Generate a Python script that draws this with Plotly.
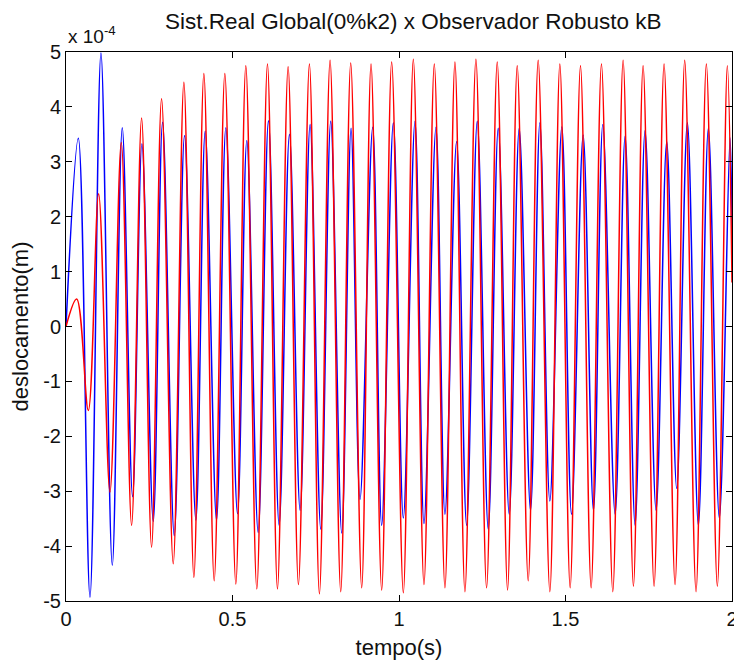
import plotly.graph_objects as go

# Values (displacement in units of 1e-4 m)
# Real system (blue): times (s) of start / extremes / end, and values
blue_t = [0.000, 0.037, 0.072, 0.105, 0.139, 0.169, 0.200, 0.228, 0.262, 0.290,
          0.325, 0.356, 0.390, 0.418, 0.452, 0.480, 0.515, 0.543, 0.577, 0.608,
          0.640, 0.671, 0.703, 0.733, 0.765, 0.795, 0.828, 0.856, 0.883, 0.921,
          0.948, 0.983, 1.013, 1.048, 1.075, 1.111, 1.138, 1.173, 1.203, 1.235,
          1.268, 1.298, 1.331, 1.361, 1.395, 1.423, 1.453, 1.489, 1.518, 1.553,
          1.584, 1.612, 1.649, 1.679, 1.709, 1.739, 1.772, 1.804, 1.834, 1.866,
          1.899, 1.929, 1.962, 1.994, 2.000]
blue_y = [0.00, 3.43, -4.93, 4.98, -4.35, 3.62, -3.10, 3.33, -3.55, 3.72,
          -3.81, 3.48, -3.53, 3.56, -3.53, 3.62, -3.41, 3.39, -3.75, 3.75,
          -3.62, 3.50, -3.35, 3.68, -3.69, 3.74, -3.76, 3.61, -3.15, 3.63,
          -3.62, 3.71, -3.49, 3.74, -3.59, 3.63, -3.42, 3.37, -3.62, 3.74,
          -3.69, 3.61, -3.42, 3.61, -3.35, 3.71, -3.18, 3.64, -3.42, 3.49,
          -3.35, 3.68, -3.42, 3.47, -3.62, 3.57, -3.35, 3.37, -2.95, 3.71,
          -3.62, 3.61, -3.49, 3.44, 1.70]

# Robust observer (red)
red_t = [0.000, 0.032, 0.067, 0.098, 0.132, 0.166, 0.197, 0.227, 0.257, 0.287,
         0.322, 0.354, 0.384, 0.414, 0.445, 0.477, 0.510, 0.540, 0.573, 0.605,
         0.635, 0.667, 0.698, 0.731, 0.761, 0.793, 0.825, 0.855, 0.888, 0.916,
         0.948, 0.978, 1.013, 1.043, 1.075, 1.106, 1.138, 1.168, 1.198, 1.231,
         1.263, 1.295, 1.326, 1.355, 1.388, 1.418, 1.453, 1.483, 1.514, 1.545,
         1.577, 1.608, 1.642, 1.673, 1.704, 1.733, 1.766, 1.796, 1.829, 1.858,
         1.892, 1.923, 1.956, 1.986, 2.000]
red_y = [0.00, 0.50, -1.53, 2.42, -3.02, 3.35, -3.62, 3.80, -4.02, 4.15,
         -4.32, 4.45, -4.57, 4.61, -4.63, 4.61, -4.69, 4.75, -4.78, 4.78,
         -4.78, 4.73, -4.70, 4.78, -4.87, 4.85, -4.83, 4.80, -4.76, 4.78,
         -4.80, 4.82, -4.85, 4.87, -4.70, 4.78, -4.76, 4.82, -4.83, 4.87,
         -4.76, 4.82, -4.80, 4.75, -4.63, 4.85, -4.83, 4.78, -4.76, 4.75,
         -4.76, 4.78, -4.83, 4.85, -4.73, 4.75, -4.73, 4.78, -4.70, 4.85,
         -4.83, 4.78, -4.73, 4.75, 0.80]

x_ticks = [0, 0.5, 1, 1.5, 2]
x_tick_text = ["0", "0.5", "1", "1.5", "2"]
y_ticks = [-5, -4, -3, -2, -1, 0, 1, 2, 3, 4, 5]
y_tick_text = ["-5", "-4", "-3", "-2", "-1", "0", "1", "2", "3", "4", "5"]

title_text = "Sist.Real Global(0%k2) x Observador Robusto kB"
x_label = "tempo(s)"
y_label = "deslocamento(m)"

FONT = "Liberation Sans, Arial, sans-serif"
INK = "#111111"

fig = go.Figure()
fig.add_trace(go.Scatter(x=blue_t, y=blue_y, mode="lines",
                         line=dict(color="#0000FF", width=1.5, shape="spline", smoothing=1.0),
                         showlegend=False, hoverinfo="skip"))
fig.add_trace(go.Scatter(x=red_t, y=red_y, mode="lines",
                         line=dict(color="#FF0000", width=1.5, shape="spline", smoothing=1.0),
                         showlegend=False, hoverinfo="skip"))

axis_common = dict(showgrid=False, zeroline=False, showline=True, linecolor="black",
                   linewidth=1, mirror="ticks", ticks="inside", ticklen=6,
                   tickcolor="black", tickwidth=1, ticklabeloverflow="allow",
                   automargin=False,
                   tickfont=dict(family=FONT, size=20, color=INK))

fig.update_xaxes(range=[0, 2], tickvals=x_ticks, ticktext=x_tick_text,
                 title=dict(text=x_label, font=dict(family=FONT, size=22, color=INK), standoff=10),
                 **axis_common)
fig.update_yaxes(range=[-5, 5], tickvals=y_ticks, ticktext=y_tick_text,
                 title=dict(text=y_label, font=dict(family=FONT, size=22, color=INK), standoff=8),
                 **axis_common)

fig.update_layout(
    width=734, height=669,
    margin=dict(l=66, r=2, t=52, b=68, pad=0, autoexpand=False),
    paper_bgcolor="white", plot_bgcolor="white",
    title=dict(text=title_text, x=0.563, xanchor="center", y=1 - 21 / 669, yanchor="middle",
               font=dict(family=FONT, size=22.5, color=INK)),
    annotations=[dict(text="x 10<sup>-4</sup>", xref="paper", yref="paper",
                      x=0, y=1, xanchor="left", yanchor="bottom", yshift=3, showarrow=False,
                      font=dict(family=FONT, size=19, color=INK))],
)

fig.write_html("out.html")
